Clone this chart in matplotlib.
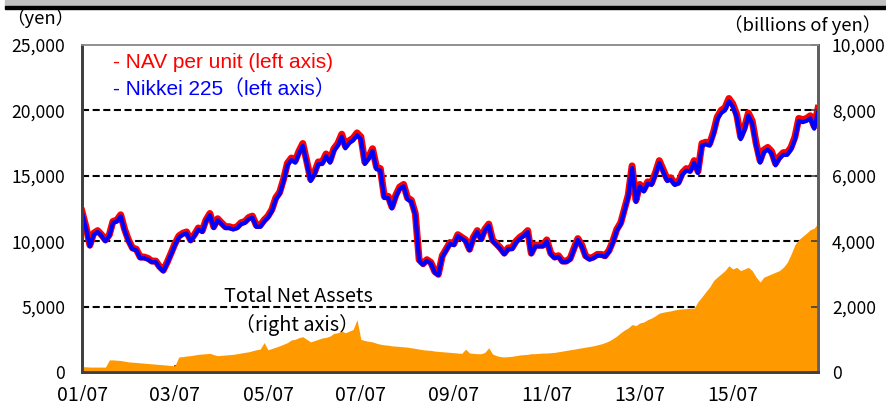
import matplotlib
matplotlib.use("Agg")
import matplotlib.pyplot as plt
from matplotlib.patches import Rectangle
import pandas as pd

# monthly observations, Jul 2001 - May 2017
dates = pd.date_range("2001-07-01", "2017-05-01", freq="MS")

nikkei = [
    12150, 11000, 9600, 10500, 10700, 10400,
    10000, 10400, 11400, 11500, 11900, 10800, 10000, 9400, 9300, 8700, 8700, 8600,
    8400, 8400, 8000, 7700, 8300, 9000, 9700, 10300, 10500, 10600, 10000, 10400,
    10900, 10700, 11500, 12000, 11000, 11600, 11300, 11000, 11000, 10900, 11000, 11300,
    11400, 11700, 11800, 11100, 11100, 11500, 11800, 12300, 13200, 13600, 14600, 15800,
    16200, 16000, 16700, 17300, 16000, 14600, 15100, 15900, 15900, 16500, 16000, 16900,
    17300, 18000, 17100, 17500, 17700, 18100, 17800, 15900, 16300, 16900, 15500, 15400,
    13300, 13300, 12500, 13400, 14000, 14200, 13200, 13000, 12000, 8500, 8200, 8500,
    8300, 7600, 7400, 8800, 9300, 9800, 9700, 10400, 10200, 10000, 9300, 10200,
    10700, 10100, 10800, 11200, 10000, 9700, 9400, 9000, 9400, 9400, 9900, 10200,
    10400, 10700, 9000, 9600, 9600, 9600, 10000, 9000, 8700, 8800, 8400, 8400,
    8600, 9400, 10100, 9600, 8800, 8600, 8700, 8900, 8900, 8800, 9200, 9900,
    10800, 11300, 12300, 13400, 15600, 13000, 14200, 13800, 14400, 14300, 15100, 16000,
    15300, 14600, 14700, 14300, 14400, 15100, 15400, 15300, 16000, 15200, 17300, 17400,
    17300, 18200, 19300, 19800, 20000, 20700, 20300, 19500, 17800, 18500, 19600, 19000,
    17300, 16000, 16800, 17000, 16700, 15800, 16300, 16600, 16600, 17000, 17800, 19200,
    19100, 19200, 19400, 18600, 19900,
]

nav = [
    12270, 11110, 9700, 10610, 10810, 10500,
    10100, 10500, 11510, 11620, 12020, 10910, 10100, 9490, 9390, 8790, 8790, 8690,
    8480, 8480, 8080, 7780, 8380, 9090, 9800, 10400, 10610, 10710, 10100, 10500,
    11010, 10810, 11620, 12120, 11110, 11720, 11410, 11110, 11110, 11010, 11110, 11410,
    11510, 11820, 11920, 11210, 11210, 11620, 11920, 12420, 13330, 13740, 14750, 15960,
    16360, 16160, 16870, 17470, 16160, 14750, 15250, 16060, 16060, 16670, 16160, 17070,
    17470, 18180, 17270, 17680, 17880, 18280, 17980, 16060, 16460, 17070, 15660, 15550,
    13430, 13430, 12630, 13530, 14140, 14340, 13330, 13130, 12120, 8590, 8280, 8590,
    8380, 7680, 7470, 8890, 9390, 9900, 9800, 10500, 10300, 10100, 9390, 10300,
    10810, 10200, 10910, 11310, 10100, 9800, 9490, 9090, 9490, 9490, 10000, 10300,
    10500, 10810, 9090, 9700, 9700, 9700, 10100, 9090, 8790, 8890, 8480, 8480,
    8690, 9490, 10200, 9700, 8890, 8690, 8790, 8990, 8990, 8890, 9290, 10000,
    10910, 11410, 12420, 13530, 15760, 13130, 14340, 13940, 14540, 14440, 15250, 16160,
    15450, 14750, 14850, 14440, 14540, 15250, 15550, 15450, 16160, 15350, 17470, 17570,
    17470, 18380, 19490, 20000, 20200, 20910, 20500, 19700, 17980, 18690, 19800, 19190,
    17470, 16160, 16970, 17170, 16870, 15960, 16460, 16770, 16770, 17170, 17980, 19390,
    19290, 19390, 19590, 18790, 20150,
]

# total net assets, billions of yen
tna = [
    160, 160, 150, 150, 150, 150,
    150, 370, 370, 360, 350, 330, 310, 300, 290, 280, 270, 260,
    250, 240, 230, 220, 210, 200, 190, 460, 470, 490, 500, 520,
    540, 550, 560, 570, 530, 500, 510, 520, 530, 540, 560, 580,
    600, 620, 650, 680, 700, 900, 680, 720, 760, 800, 850, 900,
    980, 1000, 1050, 1080, 1000, 920, 960, 1000, 1040, 1060, 1100, 1180,
    1200, 1250, 1200, 1250, 1300, 1600, 1000, 960, 940, 920, 880, 850,
    830, 820, 800, 790, 780, 770, 760, 740, 720, 700, 680, 670,
    660, 640, 630, 620, 610, 600, 590, 580, 570, 700, 580, 570,
    560, 560, 600, 740, 550, 500, 470, 460, 470, 480, 500, 520,
    530, 540, 560, 560, 570, 580, 580, 590, 600, 620, 640, 660,
    680, 700, 720, 740, 760, 780, 800, 830, 860, 900, 950, 1020,
    1100, 1200, 1280, 1350, 1450, 1420, 1500, 1530, 1600, 1650, 1720, 1800,
    1830, 1850, 1870, 1900, 1920, 1930, 1940, 1950, 1950, 2150, 2300, 2450,
    2600, 2800, 2900, 3000, 3100, 3250, 3150, 3200, 3100, 3150, 3200, 3100,
    2900, 2750, 2900, 2950, 3000, 3050, 3100, 3200, 3350, 3600, 3900, 4050,
    4150, 4250, 4350, 4400, 4550,
]

left_ticks = [0, 5000, 10000, 15000, 20000, 25000]
right_ticks = [0, 2000, 4000, 6000, 8000, 10000]
grid_levels = [5000, 10000, 15000, 20000]
x_ticks = pd.date_range("2001-07-01", "2015-07-01", freq="24MS")

JP = ["Noto Sans CJK JP", "DejaVu Sans"]
LAT = ["Liberation Sans", "Noto Sans CJK JP"]

fig = plt.figure(figsize=(8.87, 4.01), dpi=100)
fig.patches.append(Rectangle((5 / 887, 1 - 6 / 401), 1, 6 / 401, transform=fig.transFigure,
                             color="#c0c0c0", zorder=0))
fig.patches.append(Rectangle((5 / 887, 1 - 9 / 401), 1, 3 / 401, transform=fig.transFigure,
                             color="black", zorder=0))

ax = fig.add_axes([82 / 887, 29 / 401, 736 / 887, 327 / 401])
ax2 = ax.twinx()

for lv in grid_levels:
    ax.axhline(lv, color="black", lw=1.5, ls=(0, (3.4, 1.7)), zorder=1)

ax.plot(dates, nav, color="#ff0000", lw=5, solid_joinstyle="round", zorder=3)
ax.plot(dates, nikkei, color="#0000ff", lw=3, solid_joinstyle="round", zorder=4)
ax2.fill_between(dates, tna, color="#ff9900", lw=0)

ax.set_xlim(dates[0], dates[-1])
ax.set_ylim(0, 25000)
ax2.set_ylim(0, 10000)

ax.set_yticks(left_ticks)
ax.set_yticklabels([f"{v:,}" for v in left_ticks], family=JP, fontsize=12.7)
ax2.set_yticks(right_ticks)
ax2.set_yticklabels([f"{v:,}" for v in right_ticks], family=JP, fontsize=12.7)
ax.set_xticks(x_ticks)
ax.set_xticklabels([d.strftime("%y/%m") for d in x_ticks], family=JP, fontsize=14)

ax.tick_params(axis="y", direction="in", length=0, pad=12)
ax.tick_params(axis="x", direction="in", length=5, width=1.2, color="#404040", pad=9)
ax2.tick_params(axis="y", direction="in", length=5, width=1.2, color="#404040", pad=10)

for a in (ax, ax2):
    a.spines["left"].set_color("#404040")
    a.spines["left"].set_linewidth(2)
    a.spines["bottom"].set_color("#404040")
    a.spines["bottom"].set_linewidth(2)
    a.spines["right"].set_color("#606060")
    a.spines["right"].set_linewidth(2)
    a.spines["top"].set_color("#909090")
    a.spines["top"].set_linewidth(1.2)
    a.spines["top"].set_linestyle((0, (3, 1)))

fig.text(40 / 887, 1 - 18 / 401, "（yen）", family=JP, fontsize=13.3, ha="center", va="center")
fig.text(881 / 887, 1 - 25 / 401, "（billions of yen）", family=JP, fontsize=13.3,
         ha="right", va="center")

ax.text(0.042, 0.945, "- NAV per unit (left axis)", transform=ax.transAxes, color="#ff0000",
        family=LAT, fontsize=15, va="center")
ax.text(0.042, 0.866, "- Nikkei 225（left axis）", transform=ax.transAxes, color="#0000ff",
        family=LAT, fontsize=15, va="center")

ax.text((298 - 82) / 736, 1 - (297 - 45) / 327, "Total Net Assets", transform=ax.transAxes,
        family=JP, fontsize=14.3, ha="center", va="center")
ax.text((297 - 82) / 736, 1 - (325 - 45) / 327, "（right axis）", transform=ax.transAxes,
        family=JP, fontsize=14.3, ha="center", va="center")

fig.savefig("out.png", dpi=100)
